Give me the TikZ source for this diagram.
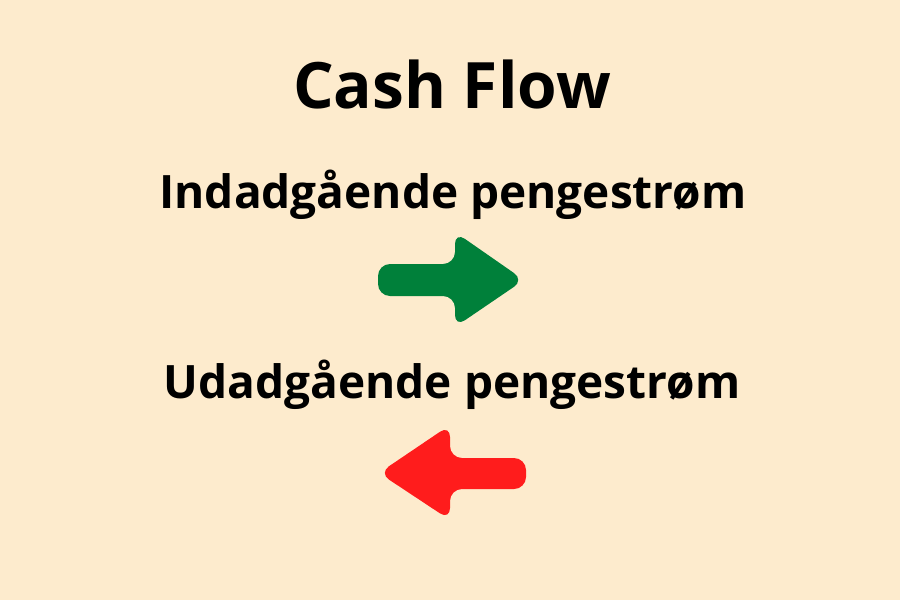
\documentclass[tikz,border=0pt]{standalone}
\usepackage{fontspec}
\setmainfont{Open Sans}[BoldFont={Open Sans Bold}]
\definecolor{bg}{HTML}{FDEBCD}
\definecolor{grn}{HTML}{00803A}
\definecolor{rd}{HTML}{FF1C1C}
\tikzset{lbl/.style={font=\bfseries, inner sep=0pt, anchor=base}}
\begin{document}
\begin{tikzpicture}[x=1pt,y=-1pt]
\fill[bg] (0,0) rectangle (900,600);
\useasboundingbox (0,0) rectangle (900,600);
\node[lbl, font=\fontsize{64}{70}\selectfont\bfseries] (title) at (452,108) {Cash Flow};
\node[lbl, font=\fontsize{46}{52}\selectfont\bfseries] (in) at (453,208) {Indadgående pengestrøm};
\node[lbl, font=\fontsize{46}{52}\selectfont\bfseries] (out) at (452,398) {Udadgående pengestrøm};
% green arrow
\fill[grn, rounded corners=12pt] (378,264) -- (455,264) -- (455,232) -- (524,280) -- (455,327) -- (455,296) -- (378,296) -- cycle;
% red arrow
\fill[rd, rounded corners=12pt] (526,458) -- (450,458) -- (450,425) -- (379,473) -- (450,520) -- (450,489) -- (526,489) -- cycle;
\end{tikzpicture}
\end{document}
